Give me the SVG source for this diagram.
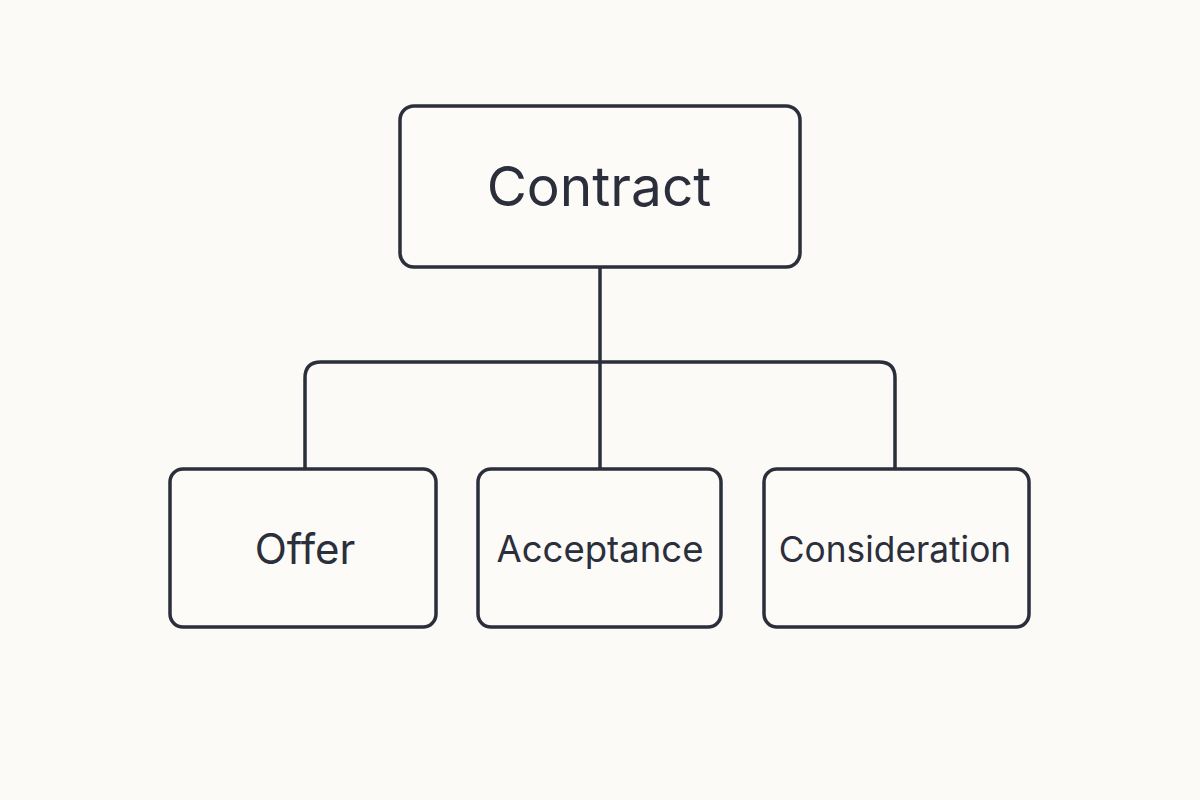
<svg xmlns="http://www.w3.org/2000/svg" width="1200" height="800" viewBox="0 0 1200 800">
<style>
.box{fill:#fcfbf7;stroke:#2b2e3b;stroke-width:3.5}
.conn{fill:none;stroke:#2b2e3b;stroke-width:3.5}
text{font-family:Inter,"Noto Sans",sans-serif;fill:#2b2e3b;text-anchor:middle;font-weight:400}
</style>
<rect width="1200" height="800" fill="#fbfaf6"/>
<g id="connectors">
<path class="conn" d="M600 267 V469"/>
<path class="conn" d="M305 469 V378 Q305 362 321 362 H879 Q895 362 895 378 V469"/>
</g>
<g id="contract">
<rect class="box" x="400" y="106" width="400" height="161" rx="14"/>
<text x="599" y="206" font-size="55">Contract</text>
</g>
<g id="offer">
<rect class="box" x="170" y="469" width="266" height="158" rx="13"/>
<text x="305" y="564" font-size="42">Offer</text>
</g>
<g id="acceptance">
<rect class="box" x="478" y="469" width="243" height="158" rx="13"/>
<text x="600" y="562" font-size="36.5">Acceptance</text>
</g>
<g id="consideration">
<rect class="box" x="764" y="469" width="265" height="158" rx="13"/>
<text x="895" y="562" font-size="35.3">Consideration</text>
</g>
</svg>
